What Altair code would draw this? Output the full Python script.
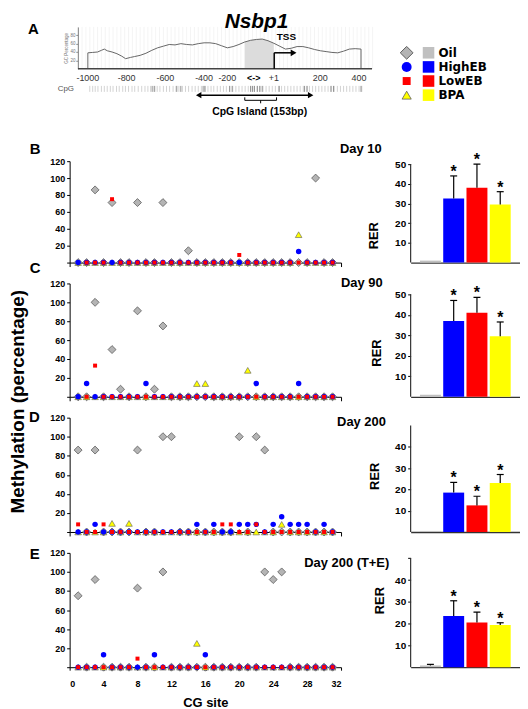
import altair as alt
import pandas as pd

FONT = "Liberation Sans"

# ---------------- data ----------------
series = ["Oil", "HighEB", "LowEB", "BPA"]
sites = list(range(1, 32))

# panel A: GC percentage profile around the Nsbp1 TSS
gc_bp = [-1000, -1000, -975, -950, -930, -915, -900, -875, -850, -825, -805, -780, -760, -730,
         -700, -670, -640, -610, -580, -550, -520, -490, -460, -430, -400, -370, -340, -310,
         -280, -250, -220, -190, -160, -130, -100, -70, -40, -10, 20, 50, 80, 110, 140, 170,
         200, 230, 260, 290, 320, 350, 380, 410, 410]
gc_pct = [0, 38, 39, 40, 44, 47, 43, 40, 36, 30, 24, 27, 29, 32,
          37, 44, 50, 54, 58, 57, 60, 58, 57, 60, 62, 62, 60, 55,
          50, 53, 58, 64, 68, 70, 71, 67, 61, 54, 47, 49, 53, 53, 50, 46,
          43, 41, 39, 38, 42, 47, 48, 47, 0]
gc_tick_pos = [-1000, -800, -600, -400, -280, -40, 200, 400]
gc_tick_text = ["-1000", "-800", "-600", "-400", "-200", "+1", "200", "400"]
cpg_light = [-990, -975, -962, -948, -930, -915, -900, -884, -870, -852, -838, -820, -806, -790,
             -772, -758, -740, -722, -705, -690, -676, -660, -642, -628, -610, -594, -578, -560,
             -545, -530, -512, -496, -480, -462, -446, -430, -414, -398, -380, -364, -350, -332,
             -316, -300, -285, -268, -252, -236, -220, -204, -188, -172, -158, -142, -126, -110,
             -96, -80, -64, -48, -32, -16, 0, 16, 32, 48, 64, 80, 96, 112, 128, 144, 160, 176,
             192, 208, 224, 240, 256, 272, 288, 304, 320, 336, 352, 368, 384, 400, 414]
cpg_dark = [-668, -655, -541, -520, -405, -395, -268, -255, -160, -150, -140, -125, -113, -100,
            -12, 118, 132, 255, 268, 410]

# panels B-E: methylation (%) at CG sites 1..31
b_oil = [0, 0, 86, 0, 71, 0, 0, 71, 0, 0, 71, 0, 0, 14, 0, 0, 0, 0, 0, 0,
         0, 0, 0, 0, 0, 0, 0, 0, 100, 0, 0]
b_high = [0, 0, 0, 0, 0, 0, 0, 0, 0, 0, 0, 0, 0, 0, 0, 0, 0, 0, 0, 0,
          0, 0, 0, 0, 0, 0, 13, 0, 0, 0, 0]
b_low = [None, 0, 0, 0, 75, 0, 0, 0, 0, 0, 0, 0, 0, 0, 0, 0, 0, 0, 0, 9,
         0, 0, 0, 0, 0, 0, 0, 0, 0, 0, 0]
b_bpa = [0, 0, 0, 0, 0, 0, 0, 0, 0, 0, 0, 0, 0, 0, 0, 0, 0, 0, 0, 0,
         0, 0, 0, 0, 0, 0, 33, 0, 0, 0, 0]

c_oil = [0, 0, 100, 0, 50, 8, 0, 91, 0, 8, 75, 0, 0, 0, 0, 0, 0, 0, 0, 0,
         0, 0, 0, 0, 0, 0, 0, 0, 0, 0, 0]
c_high = [0, 14, 0, 0, 0, 0, 0, 0, 14, 0, 0, 0, 0, 0, 0, 0, 0, 0, 0, 0,
          0, 14, 0, 0, 0, 0, 14, 0, 0, 0, 0]
c_low = [None, 0, 33, 0, 0, 0, 0, 0, 0, 0, 0, 0, 0, 0, 0, 0, 0, 0, 0, 0,
         0, 0, 0, 0, 0, 0, 0, 0, 0, 0, 0]
c_bpa = [0, 0, 0, 0, 0, 0, 0, 0, 0, 0, 0, 0, 0, 0, 14, 14, 0, 0, 0, 0,
         28, 0, 0, 0, 0, 0, 0, 0, 0, 0, 0]

d_oil = [86, 0, 86, 0, 0, 0, 0, 86, 0, 0, 100, 100, 0, 0, 0, 0, 0, 0, 0, 100,
         0, 100, 86, 0, 0, 0, 0, 0, 0, 0, 0]
d_high = [0, 0, 8, 0, 0, 0, 0, 0, 0, 0, 0, 0, 0, 0, 8, 0, 8, 0, 0, 8,
          8, 8, 0, 8, 16, 8, 8, 8, 0, 8, 0]
d_low = [8, 0, 0, 8, 0, 0, 0, 0, 0, 0, 0, 0, 0, 0, 0, 0, 0, 8, 8, 0,
         0, 8, 0, 0, 0, 0, 0, 0, 0, 0, 0]
d_bpa = [0, 0, 0, 0, 9, 0, 9, 0, 0, 0, 0, 0, 0, 0, 0, 0, 0, 0, 0, 0,
         0, 0, 0, 0, 8, 0, 0, 0, 0, 0, 0]

e_oil = [75, 0, 92, 0, 0, 0, 0, 83, 0, 0, 100, 0, 0, 0, 0, 0, 0, 0, 0, 0,
         0, 0, 100, 92, 100, 0, 0, 0, 0, 0, 0]
e_high = [0, 0, 0, 13, 0, 0, 0, 0, 0, 13, 0, 0, 0, 0, 0, 13, 0, 0, 0, 0,
          0, 0, 0, 0, 0, 0, 0, 0, 0, 0, 0]
e_low = [0, 0, 0, 0, 0, 0, 0, 9, 0, 0, 0, 0, 0, 0, 0, 0, 0, 0, 0, 0,
         0, 0, 0, 0, 0, 0, 0, 0, 0, 0, 0]
e_bpa = [0, 0, 0, 0, 0, 0, 0, 0, 0, 0, 0, 0, 0, 0, 25, 0, 0, 0, 0, 0,
         0, 0, 0, 0, 0, 0, 0, 0, 0, 0, 0]

# RER bar charts (Oil, HighEB, LowEB, BPA)
rer_day10 = [1, 32.5, 38, 29.5]
rer_day10_err = [None, 44, 50, 36]
rer_day90 = [1, 37, 41, 29.5]
rer_day90_err = [None, 47, 48.5, 36.5]
rer_day200 = [0.5, 18.5, 12.5, 23]
rer_day200_err = [None, 23.3, 16.8, 27]
rer_day200te = [0.8, 23.5, 20.5, 19.4]
rer_day200te_err = [1.3, 30.5, 25.3, 20.4]
stars = ["", "*", "*", "*"]

panel_letters = ["A", "B", "C", "D", "E"]
day_labels = ["Day 10", "Day 90", "Day 200", "Day 200 (T+E)"]
gene_name = "Nsbp1"

# ---------------- styles ----------------
dot_style = {
    "Oil": dict(shape="diamond", size=64, fill="#b4b4b4", stroke="#5c5c5c", strokeWidth=0.8),
    "BPA": dict(shape="triangle-up", size=44, fill="#ffff00", stroke="#5c5c5c", strokeWidth=0.6),
    "HighEB": dict(shape="circle", size=30, fill="#0000ff"),
    "LowEB": dict(shape="square", size=16, fill="#ff0000"),
}
legend_style = {
    "Oil": dict(shape="diamond", size=165, fill="#b4b4b4", stroke="#5c5c5c", strokeWidth=1),
    "HighEB": dict(shape="circle", size=100, fill="#0000ff"),
    "LowEB": dict(shape="square", size=64, fill="#ff0000"),
    "BPA": dict(shape="triangle-up", size=85, fill="#ffff00", stroke="#5c5c5c", strokeWidth=0.8),
}
bar_colors = ["#000000", "#0000ff", "#ff0000", "#ffff00"]
legend_square_colors = ["#c0c0c0", "#0000ff", "#ff0000", "#ffff00"]
DOT_W = 273
BAR_W = 110


def label(text, x, y, size, align="left", baseline="alphabetic", angle=0,
          italic=False, weight="bold", color="black", font=FONT):
    return alt.Chart(pd.DataFrame({"t": [text]})).mark_text(
        align=align, baseline=baseline, fontSize=size, fontWeight=weight,
        font=font, angle=angle, color=color,
        fontStyle="italic" if italic else "normal",
    ).encode(x=alt.value(x), y=alt.value(y), text="t:N")


# ---------------- panel A ----------------
GC_H = 42
gc_df = pd.DataFrame({"i": list(range(len(gc_bp))), "bp": gc_bp, "pct": gc_pct})
gc_xscale = alt.Scale(domain=[-1094, 307], nice=False, zero=False)
x_gc = alt.X("bp:Q", scale=gc_xscale, axis=None)
y_gc = alt.Y("pct:Q", scale=alt.Scale(domain=[0, 100], nice=False),
             axis=alt.Axis(offset=-8.3, values=[20, 40, 60, 80], labelFontSize=4.5,
                           labelFontWeight="normal", labelColor="#777", tickSize=2,
                           labelPadding=1, title="GC Percentage", titleFontSize=4.5,
                           titleFontWeight="normal", titleColor="#777", titlePadding=1,
                           domainColor="#444", tickColor="#777", grid=False))
TSS_Y = 26  # pixel level of the TSS arrow (about 38 % GC)

grid_df = pd.DataFrame({"bp": list(range(-1050, 471, 20))})
gc_grid = alt.Chart(grid_df).mark_rule(color="#ececec", strokeWidth=0.6).encode(
    x=x_gc, y=alt.value(0), y2=alt.value(GC_H))
gc_area = alt.Chart(gc_df).transform_filter(
    (alt.datum.bp >= -190) & (alt.datum.bp <= -40)
).mark_area(color="#dcdcdc", opacity=1).encode(x=x_gc, y=y_gc)
gc_line = alt.Chart(gc_df).mark_line(color="#666666", strokeWidth=1).encode(
    x=x_gc, y=y_gc, order="i:Q")
one = pd.DataFrame({"k": [0]})
gc_base = alt.Chart(one).mark_rule(color="#444", strokeWidth=1.5).encode(
    x=alt.X(datum=-1051, scale=gc_xscale, axis=None), x2=alt.X2(datum=467),
    y=alt.value(GC_H))
tss_v = alt.Chart(one).mark_rule(color="black", strokeWidth=1.5).encode(
    x=alt.X(datum=-38, axis=None), y=alt.value(GC_H), y2=alt.value(TSS_Y))
tss_h = alt.Chart(one).mark_rule(color="black", strokeWidth=1.5).encode(
    x=alt.X(datum=-38, axis=None), x2=alt.X2(datum=56), y=alt.value(TSS_Y))
tss_head = alt.Chart(one).mark_point(shape="triangle-right", filled=True, size=45,
                                     color="black", opacity=1).encode(
    x=alt.X(datum=62, axis=None), y=alt.value(TSS_Y))
tss_text = alt.Chart(pd.DataFrame({"t": ["TSS"]})).mark_text(
    fontSize=10, fontWeight="bold", font=FONT, baseline="middle").encode(
    x=alt.X(datum=25, axis=None), y=alt.value(9.8), text="t:N")
tick_df = pd.DataFrame({"bp": gc_tick_pos, "lab": gc_tick_text})
gc_ticklabels = alt.Chart(tick_df).mark_text(fontSize=9, font=FONT, color="#333",
                                             baseline="middle").encode(
    x=x_gc, y=alt.value(51.3), text="lab:N")
island_arrow_small = alt.Chart(pd.DataFrame({"t": ["<->"]})).mark_text(
    fontSize=9, fontWeight="bold", font=FONT, baseline="middle").encode(
    x=alt.X(datum=-144, axis=None), y=alt.value(51.3), text="t:N")
cpg_l = alt.Chart(pd.DataFrame({"bp": cpg_light})).mark_rule(
    color="#c8c8c8", strokeWidth=0.8).encode(x=x_gc, y=alt.value(59.3), y2=alt.value(65.3))
cpg_d = alt.Chart(pd.DataFrame({"bp": cpg_dark})).mark_rule(
    color="#888888", strokeWidth=0.9).encode(x=x_gc, y=alt.value(59.3), y2=alt.value(65.3))
cpg_txt = label("CpG", -12, 62.3, 8, baseline="middle", weight="normal", color="#555")
arrow_line = alt.Chart(one).mark_rule(color="black", strokeWidth=1.5).encode(
    x=alt.X(datum=-425, axis=None), x2=alt.X2(datum=147), y=alt.value(68.6))
arrow_l = alt.Chart(one).mark_point(shape="triangle-left", filled=True, size=40,
                                    color="black", opacity=1).encode(
    x=alt.X(datum=-428, axis=None), y=alt.value(68.6))
arrow_r = alt.Chart(one).mark_point(shape="triangle-right", filled=True, size=40,
                                    color="black", opacity=1).encode(
    x=alt.X(datum=150, axis=None), y=alt.value(68.6))
brace_h = alt.Chart(one).mark_rule(color="black", strokeWidth=1).encode(
    x=alt.X(datum=-190, axis=None), x2=alt.X2(datum=-26), y=alt.value(73.8))
brace_l = alt.Chart(one).mark_rule(color="black", strokeWidth=1).encode(
    x=alt.X(datum=-190, axis=None), y=alt.value(70.8), y2=alt.value(73.8))
brace_r = alt.Chart(one).mark_rule(color="black", strokeWidth=1).encode(
    x=alt.X(datum=-26, axis=None), y=alt.value(70.8), y2=alt.value(73.8))
brace_c = alt.Chart(one).mark_rule(color="black", strokeWidth=1).encode(
    x=alt.X(datum=-108, axis=None), y=alt.value(73.8), y2=alt.value(76.8))
island_text = alt.Chart(pd.DataFrame({"t": ["CpG Island (153bp)"]})).mark_text(
    fontSize=10.5, fontWeight="bold", font=FONT, baseline="middle").encode(
    x=alt.X(datum=-113, axis=None), y=alt.value(85.5), text="t:N")

panel_a = alt.layer(
    gc_grid, gc_area, gc_line, gc_base, tss_v, tss_h, tss_head, tss_text,
    gc_ticklabels, island_arrow_small, cpg_l, cpg_d, cpg_txt,
    arrow_line, arrow_l, arrow_r, brace_h, brace_l, brace_r, brace_c, island_text,
    label(gene_name, 188, -5.2, 21, align="center", baseline="middle", italic=True),
    label(panel_letters[0], -42, 1.8, 15, baseline="middle"),
).properties(width=DOT_W, height=GC_H)

# legend
LEG_H = 113.3
leg_df = pd.DataFrame({"series": series})
leg_y = alt.Y("series:N", scale=alt.Scale(type="point", domain=series, range=[26, 68.6],
                                           padding=0), axis=None)
leg_layers = []
for s in series:
    leg_layers.append(alt.Chart(leg_df).transform_filter(alt.datum.series == s).mark_point(
        filled=True, opacity=1, **legend_style[s]).encode(x=alt.value(-4), y=leg_y))
leg_layers.append(alt.Chart(leg_df).mark_square(size=135, opacity=1).encode(
    x=alt.value(18), y=leg_y,
    color=alt.Color("series:N", scale=alt.Scale(domain=series, range=legend_square_colors),
                    legend=None)))
leg_layers.append(alt.Chart(leg_df).mark_text(
    align="left", baseline="middle", fontSize=12, fontWeight="bold", font="DejaVu Sans",
    color="black").encode(x=alt.value(28), y=leg_y, text="series:N"))
legend = alt.layer(*leg_layers).properties(width=BAR_W, height=LEG_H)


# ---------------- dot panels ----------------
def dot_panel(vals, height, letter, letter_xy, day, day_xy, last=False, extra=()):
    rows = []
    for s, arr in zip(series, vals):
        for site, v in zip(sites, arr):
            rows.append({"series": s, "site": site, "value": v})
    df = pd.DataFrame(rows)
    if last:
        xaxis = alt.Axis(values=list(range(0, 33, 4)), title="CG site", titleFontSize=13,
                         titleFontWeight="bold", labelFontSize=9, tickSize=3,
                         labelPadding=9, titlePadding=9, grid=False, domainColor="black")
    else:
        xaxis = alt.Axis(values=[0, 32], labels=False, title=None, tickSize=4, grid=False,
                         domainColor="black")
    x_enc = alt.X("site:Q", scale=alt.Scale(domain=[0, 32], nice=False), axis=xaxis)
    y_enc = alt.Y("value:Q", scale=alt.Scale(domain=[0, 120], nice=False),
                  axis=alt.Axis(values=[0, 20, 40, 60, 80, 100, 120], title=None,
                                labelExpr="datum.value == 0 ? '' : datum.label",
                                labelFontSize=9, tickSize=3, labelPadding=2, grid=False,
                                domainColor="black"))
    layers = []
    for s in ["Oil", "BPA", "HighEB", "LowEB"]:
        layers.append(alt.Chart(df).transform_filter(alt.datum.series == s)
                      .transform_filter("isValid(datum.value)")
                      .mark_point(filled=True, opacity=1, **dot_style[s])
                      .encode(x=x_enc, y=y_enc))
    layers.append(label(letter, letter_xy[0], letter_xy[1], 15))
    layers.append(label(day, day_xy[0], day_xy[1], 13))
    layers.extend(extra)
    return alt.layer(*layers).properties(width=DOT_W, height=height)


def bar_panel(vals, errs, height, dmax, yvals, rer_xy, hide50=False):
    df = pd.DataFrame({"series": series, "val": vals, "err": errs, "star": stars})
    x_enc = alt.X("series:N", sort=series,
                  scale=alt.Scale(domain=series, paddingInner=0.1, paddingOuter=0.4),
                  axis=alt.Axis(labels=False, ticks=False, title=None, domainColor="#333",
                                domainWidth=1.3, grid=False))
    yax = alt.Axis(values=yvals, domain=False, title=None, tickSize=3, labelPadding=2,
                   labelFontSize=10, grid=False,
                   labelExpr="datum.value == 50 ? '' : datum.label" if hide50 else "datum.label")
    yscale = alt.Scale(domain=[0, dmax], nice=False)
    y_enc = alt.Y("val:Q", scale=yscale, axis=yax)
    bars = alt.Chart(df).mark_bar(opacity=1).encode(
        x=x_enc, y=y_enc,
        color=alt.Color("series:N", scale=alt.Scale(domain=series, range=bar_colors),
                        legend=None))
    err = alt.Chart(df).transform_filter("isValid(datum.err)").mark_rule(
        color="black", strokeWidth=1.2).encode(x=x_enc, y=y_enc, y2="err:Q")
    cap = alt.Chart(df).transform_filter("isValid(datum.err)").mark_tick(
        color="black", thickness=1.2, size=7, opacity=1).encode(
        x=x_enc, y=alt.Y("err:Q", scale=yscale, axis=yax))
    star = alt.Chart(df).transform_filter("datum.star == '*'").mark_text(
        fontSize=16, fontWeight="bold", font=FONT, baseline="alphabetic", dy=1,
        color="black").encode(x=x_enc, y=alt.Y("err:Q", scale=yscale, axis=yax),
                              text="star:N")
    # vertical axis line drawn from 0 up to 50 only
    axis_df = pd.DataFrame({"lo": [0], "hi": [50]})
    axis_line = alt.Chart(axis_df).mark_rule(color="#333", strokeWidth=1.2).encode(
        x=alt.value(0), y=alt.Y("lo:Q", scale=yscale, axis=yax), y2="hi:Q")
    rer = label("RER", rer_xy[0], rer_xy[1], 13, align="center", baseline="middle",
                angle=270)
    return alt.layer(bars, err, cap, star, axis_line, rer).properties(width=BAR_W,
                                                                     height=height)


meth_title = label("Methylation (percentage)", -52, 119, 19, align="center",
                   baseline="middle", angle=270)

b_dot = dot_panel([b_oil, b_high, b_low, b_bpa], 102, panel_letters[1], (-40, -7),
                  day_labels[0], (272, -8))
c_dot = dot_panel([c_oil, c_high, c_low, c_bpa], 114, panel_letters[2], (-40, -11),
                  day_labels[1], (273, 4), extra=[meth_title])
d_dot = dot_panel([d_oil, d_high, d_low, d_bpa], 115, panel_letters[3], (-41, 4),
                  day_labels[2], (269, 8))
e_dot = dot_panel([e_oil, e_high, e_low, e_bpa], 115, panel_letters[4], (-40, 6),
                  day_labels[3], (236, 14), last=True)

b_bar = bar_panel(rer_day10, rer_day10_err, 102, 51.5, [10, 20, 30, 40, 50], (-37, 75))
c_bar = bar_panel(rer_day90, rer_day90_err, 114, 55.3, [10, 20, 30, 40, 50], (-34, 70))
d_bar = bar_panel(rer_day200, rer_day200_err, 115, 53.7, [10, 20, 30, 40], (-36, 59))
e_bar = bar_panel(rer_day200te, rer_day200te_err, 115, 52.5, [10, 20, 30, 40, 50],
                  (-31, 48), hide50=True)

chart = alt.concat(
    panel_a, legend, b_dot, b_bar, c_dot, c_bar, d_dot, d_bar, e_dot, e_bar,
    columns=2, spacing={"row": 21, "column": 70}, bounds="flush", align="each",
    padding=0, background="white",
).configure_view(stroke=None).configure_axis(
    labelFont=FONT, titleFont=FONT, labelFontWeight="bold", labelColor="black",
    tickColor="black", titleColor="black", grid=False,
)

chart.save("out.html", embed_options={"renderer": "svg", "actions": False})
